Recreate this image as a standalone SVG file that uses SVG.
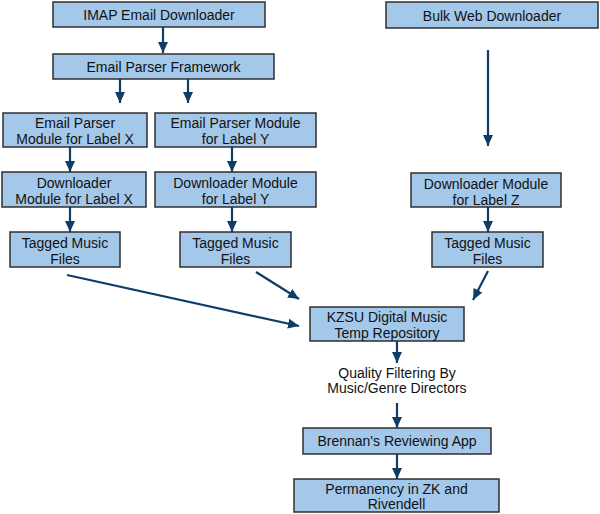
<svg xmlns="http://www.w3.org/2000/svg" width="600" height="514" viewBox="0 0 600 514">
<style>
.b{fill:#a4c8ea;stroke:#2f2f2f;stroke-width:1.5}
.t{font-family:"Liberation Sans",Arial,sans-serif;font-size:14px;fill:#111;text-anchor:middle}
.c{stroke:#0f3d68;stroke-width:2.2;fill:none;marker-end:url(#ah)}
</style>
<defs>
<marker id="ah" markerUnits="userSpaceOnUse" markerWidth="12" markerHeight="12" viewBox="0 0 12 12" refX="11" refY="6" orient="auto">
<path d="M0,1 L11,6 L0,11 z" fill="#0f3d68"/>
</marker>
</defs>
<rect width="600" height="514" fill="#fff"/>
<g id="connectors">
<line class="c" x1="163" y1="27" x2="163" y2="53"/>
<line class="c" x1="120" y1="79" x2="120" y2="103"/>
<line class="c" x1="188" y1="79" x2="188" y2="103"/>
<line class="c" x1="70" y1="147" x2="70" y2="172"/>
<line class="c" x1="232" y1="147" x2="232" y2="172"/>
<line class="c" x1="70" y1="207" x2="70" y2="232"/>
<line class="c" x1="232" y1="207" x2="232" y2="232"/>
<line class="c" x1="488" y1="50" x2="488" y2="146"/>
<line class="c" x1="488" y1="207" x2="488" y2="232"/>
<line class="c" x1="67" y1="275" x2="299" y2="326"/>
<line class="c" x1="256" y1="272" x2="299" y2="299"/>
<line class="c" x1="488" y1="271" x2="473" y2="300"/>
<line class="c" x1="397" y1="341" x2="397" y2="363"/>
<line class="c" x1="397" y1="403" x2="397" y2="428"/>
<line class="c" x1="397" y1="454" x2="397" y2="479"/>
</g>
<g id="imap"><rect class="b" x="53" y="2" width="212" height="25"/><text class="t" x="159" y="20">IMAP Email Downloader</text></g>
<g id="epf"><rect class="b" x="53" y="54" width="221" height="25"/><text class="t" x="163.5" y="72">Email Parser Framework</text></g>
<g id="epmx"><rect class="b" x="3" y="113" width="144" height="34"/><text class="t" x="75" y="128">Email Parser</text><text class="t" x="75" y="144">Module for Label X</text></g>
<g id="epmy"><rect class="b" x="155" y="113" width="161" height="34"/><text class="t" x="235.5" y="128">Email Parser Module</text><text class="t" x="235.5" y="144">for Label Y</text></g>
<g id="dmx"><rect class="b" x="2" y="172" width="144" height="35"/><text class="t" x="74" y="188">Downloader</text><text class="t" x="74" y="204">Module for Label X</text></g>
<g id="dmy"><rect class="b" x="155" y="172" width="161" height="35"/><text class="t" x="235.5" y="188">Downloader Module</text><text class="t" x="235.5" y="204">for Label Y</text></g>
<g id="tmfx"><rect class="b" x="10" y="232" width="110" height="35"/><text class="t" x="65" y="248">Tagged Music</text><text class="t" x="65" y="264">Files</text></g>
<g id="tmfy"><rect class="b" x="180" y="232" width="111" height="35"/><text class="t" x="235.5" y="248">Tagged Music</text><text class="t" x="235.5" y="264">Files</text></g>
<g id="bulk"><rect class="b" x="386" y="2" width="212" height="26"/><text class="t" x="492" y="21">Bulk Web Downloader</text></g>
<g id="dmz"><rect class="b" x="411" y="173" width="150" height="34"/><text class="t" x="486" y="189">Downloader Module</text><text class="t" x="486" y="205">for Label Z</text></g>
<g id="tmfz"><rect class="b" x="432" y="232" width="111" height="35"/><text class="t" x="487.5" y="248">Tagged Music</text><text class="t" x="487.5" y="264">Files</text></g>
<g id="kzsu"><rect class="b" x="310" y="307" width="154" height="34"/><text class="t" x="387" y="322">KZSU Digital Music</text><text class="t" x="387" y="338">Temp Repository</text></g>
<g id="quality"><text class="t" x="397" y="378">Quality Filtering By</text><text class="t" x="397" y="393">Music/Genre Directors</text></g>
<g id="brennan"><rect class="b" x="303" y="428" width="188" height="26"/><text class="t" x="397" y="446">Brennan's Reviewing App</text></g>
<g id="perm"><rect class="b" x="294" y="479" width="205" height="33"/><text class="t" x="396.5" y="494">Permanency in ZK and</text><text class="t" x="396.5" y="509">Rivendell</text></g>
</svg>
